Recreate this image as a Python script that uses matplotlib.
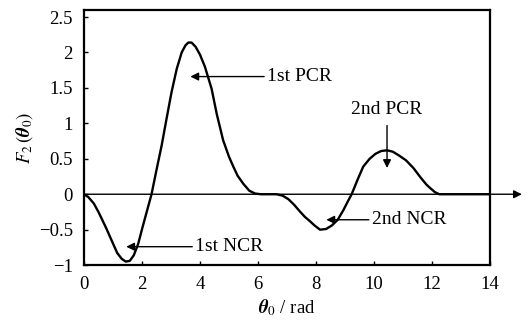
import numpy as np
import matplotlib.pyplot as plt

plt.rcParams['font.family'] = ['Liberation Serif', 'DejaVu Serif']
plt.rcParams['mathtext.fontset'] = 'stix'

# curve: theta0 (rad) and F2
theta = [0.0, 0.15, 0.34, 0.5, 0.63, 0.78, 0.92, 1.05, 1.15, 1.3, 1.44, 1.58,
         1.72, 1.87, 2.01, 2.17, 2.33, 2.51, 2.68, 2.85, 3.02, 3.2, 3.37, 3.5,
         3.6, 3.71, 3.85, 4.0, 4.17, 4.4, 4.58, 4.8, 5.0, 5.15, 5.3, 5.49, 5.7,
         5.9, 6.1, 6.64, 6.85, 7.05, 7.25, 7.45, 7.62, 7.79, 7.95, 8.14, 8.35,
         8.55, 8.75, 8.95, 9.1, 9.23, 9.45, 9.63, 9.85, 10.05, 10.25, 10.45,
         10.65, 10.85, 11.1, 11.36, 11.6, 11.8, 11.93, 12.1, 12.25, 14.0]
F2 = [0.0, -0.04, -0.13, -0.25, -0.36, -0.49, -0.62, -0.74, -0.83, -0.91,
      -0.95, -0.94, -0.86, -0.70, -0.48, -0.24, 0.0, 0.36, 0.69, 1.07, 1.44,
      1.77, 2.0, 2.1, 2.14, 2.14, 2.08, 1.97, 1.80, 1.49, 1.13, 0.76, 0.53,
      0.39, 0.26, 0.15, 0.05, 0.01, 0.0, 0.0, -0.02, -0.07, -0.15, -0.245,
      -0.32, -0.38, -0.44, -0.5, -0.49, -0.44, -0.36, -0.22, -0.1, 0.0, 0.22,
      0.39, 0.5, 0.57, 0.61, 0.62, 0.6, 0.55, 0.48, 0.37, 0.24, 0.14, 0.09,
      0.03, 0.0, 0.0]

xticks = [0, 2, 4, 6, 8, 10, 12, 14]
yticks = [-1, -0.5, 0, 0.5, 1, 1.5, 2, 2.5]
ylabels = ['\u22121', '\u22120.5', '0', '0.5', '1', '1.5', '2', '2.5']

# label text, arrow tip, text position
notes = [('1st PCR', (3.62, 1.66), (6.31, 1.66), 'left', 'center'),
         ('2nd PCR', (10.45, 0.37), (10.45, 0.97), 'center', 'bottom'),
         ('2nd NCR', (8.31, -0.36), (9.92, -0.36), 'left', 'center'),
         ('1st NCR', (1.41, -0.74), (3.83, -0.74), 'left', 'center')]

fig = plt.figure(figsize=(5.28, 3.31), dpi=100)
ax = fig.add_axes([0.159, 0.199, 0.769, 0.771])

ax.plot(theta, F2, color='black', lw=1.7)

# horizontal zero axis with arrow running past the frame
ax.annotate('', xy=(15.1, 0), xytext=(0, 0), annotation_clip=False,
            arrowprops=dict(arrowstyle='-|>', color='black', lw=1.0,
                            mutation_scale=12, shrinkA=0, shrinkB=0))

for txt, tip, pos, ha, va in notes:
    if va == 'bottom':
        ax.annotate('', xy=tip, xytext=pos,
                    arrowprops=dict(arrowstyle='-|>', color='black', lw=1.0,
                                    mutation_scale=12, shrinkA=0, shrinkB=0))
        ax.text(pos[0], pos[1] + 0.1, txt, ha=ha, va=va, fontsize=14)
    else:
        ax.annotate(txt, xy=tip, xytext=pos, ha=ha, va=va, fontsize=14,
                    arrowprops=dict(arrowstyle='-|>', color='black', lw=1.0,
                                    mutation_scale=12, shrinkA=0, shrinkB=1))

ax.set_xlim(0, 14)
ax.set_ylim(-1, 2.6)
ax.set_xticks(xticks)
ax.set_yticks(yticks)
ax.set_yticklabels(ylabels)
ax.tick_params(direction='in', length=3, width=1, labelsize=13.5, pad=8)
for s in ax.spines.values():
    s.set_linewidth(1.6)

ax.set_xlabel(r'$\boldsymbol{\theta}_0$ / rad', fontsize=13.5, labelpad=3)
ax.set_ylabel(r'$F_2\,(\boldsymbol{\theta}_0)$', fontsize=13.5, labelpad=3)

fig.savefig('out.png', dpi=100)
